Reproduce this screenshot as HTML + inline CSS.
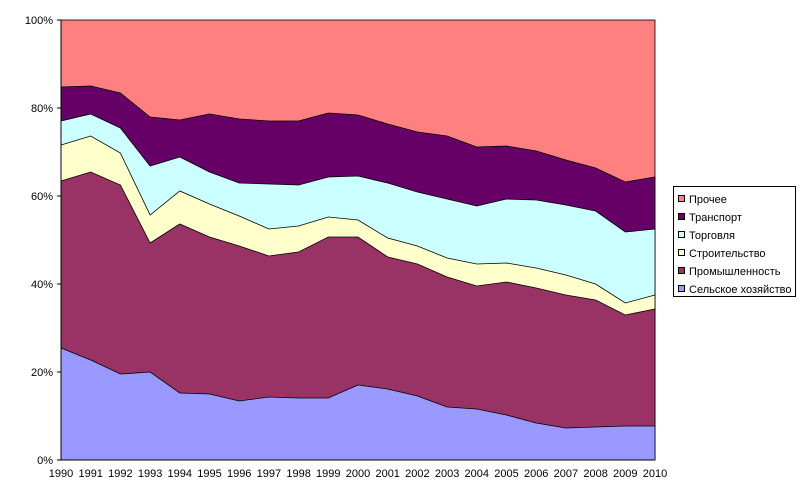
<!DOCTYPE html>
<html><head><meta charset="utf-8"><style>
body{margin:0;background:#fff;}
svg text{font-family:"Liberation Sans",Arial,sans-serif;font-size:11px;fill:#000;}
</style></head><body>
<svg width="800" height="498" xmlns="http://www.w3.org/2000/svg">
<rect x="0" y="0" width="800" height="498" fill="#fff"/>
<g stroke="#000" stroke-width="0.8">
<rect x="61" y="20" width="594" height="440" fill="#FF8080"/>
<polygon fill="#660066" points="61,87 90.7,86 120.4,93 150.1,117 179.8,120 209.5,114 239.2,119 268.9,121 298.6,121 328.3,113 358,115 387.7,124 417.4,132 447.1,136 476.8,147 506.5,146 536.2,151 565.9,160 595.6,168 625.3,182 655,177 655,460 61,460"/>
<polygon fill="#CCFFFF" points="61,121 90.7,114 120.4,128 150.1,166 179.8,157 209.5,172 239.2,183 268.9,184 298.6,185 328.3,177 358,176 387.7,183 417.4,192 447.1,199 476.8,206 506.5,199 536.2,200 565.9,205 595.6,211 625.3,232 655,229 655,460 61,460"/>
<polygon fill="#FFFFCC" points="61,145 90.7,136 120.4,153 150.1,215 179.8,191 209.5,204 239.2,216 268.9,229 298.6,226 328.3,217 358,220 387.7,238 417.4,246 447.1,258 476.8,264 506.5,263 536.2,268 565.9,275 595.6,284 625.3,303 655,295 655,460 61,460"/>
<polygon fill="#993366" points="61,181 90.7,172 120.4,185 150.1,243 179.8,224 209.5,237 239.2,246 268.9,256 298.6,252 328.3,237 358,237 387.7,257 417.4,264 447.1,277 476.8,286 506.5,282 536.2,288 565.9,295 595.6,300 625.3,315 655,309 655,460 61,460"/>
<polygon fill="#9999FF" points="61,348 90.7,360 120.4,374 150.1,372 179.8,393 209.5,394 239.2,401 268.9,397 298.6,398 328.3,398 358,385 387.7,389 417.4,396 447.1,407 476.8,409 506.5,415 536.2,423 565.9,428 595.6,427 625.3,426 655,426 655,460 61,460"/>
</g>
<g stroke="#000" stroke-width="1">
<line x1="61" y1="20" x2="61" y2="460"/>
<line x1="61" y1="460" x2="655" y2="460"/>
<line x1="57" y1="20" x2="61" y2="20"/><line x1="57" y1="108" x2="61" y2="108"/><line x1="57" y1="196" x2="61" y2="196"/><line x1="57" y1="284" x2="61" y2="284"/><line x1="57" y1="372" x2="61" y2="372"/><line x1="57" y1="460" x2="61" y2="460"/>
</g>
<g text-anchor="end">
<text x="53" y="24">100%</text><text x="53" y="112">80%</text><text x="53" y="200">60%</text><text x="53" y="288">40%</text><text x="53" y="376">20%</text><text x="53" y="464">0%</text>
</g>
<g text-anchor="middle">
<text x="61" y="477">1990</text><text x="90.7" y="477">1991</text><text x="120.4" y="477">1992</text><text x="150.1" y="477">1993</text><text x="179.8" y="477">1994</text><text x="209.5" y="477">1995</text><text x="239.2" y="477">1996</text><text x="268.9" y="477">1997</text><text x="298.6" y="477">1998</text><text x="328.3" y="477">1999</text><text x="358" y="477">2000</text><text x="387.7" y="477">2001</text><text x="417.4" y="477">2002</text><text x="447.1" y="477">2003</text><text x="476.8" y="477">2004</text><text x="506.5" y="477">2005</text><text x="536.2" y="477">2006</text><text x="565.9" y="477">2007</text><text x="595.6" y="477">2008</text><text x="625.3" y="477">2009</text><text x="655" y="477">2010</text>
</g>
<rect x="673.5" y="186.5" width="122" height="110" fill="#fff" stroke="#000" stroke-width="1"/>
<g stroke="#000" stroke-width="1">
<rect x="678.5" y="195.5" width="6" height="6" fill="#FF8080"/>
<rect x="678.5" y="213.5" width="6" height="6" fill="#660066"/>
<rect x="678.5" y="231.5" width="6" height="6" fill="#CCFFFF"/>
<rect x="678.5" y="249.5" width="6" height="6" fill="#FFFFCC"/>
<rect x="678.5" y="267.5" width="6" height="6" fill="#993366"/>
<rect x="678.5" y="285.5" width="6" height="6" fill="#9999FF"/>
</g>
<text x="689" y="203">Прочее</text>
<text x="689" y="221">Транспорт</text>
<text x="689" y="239">Торговля</text>
<text x="689" y="257">Строительство</text>
<text x="689" y="275">Промышленность</text>
<text x="689" y="293">Сельское хозяйство</text>
</svg>
</body></html>
